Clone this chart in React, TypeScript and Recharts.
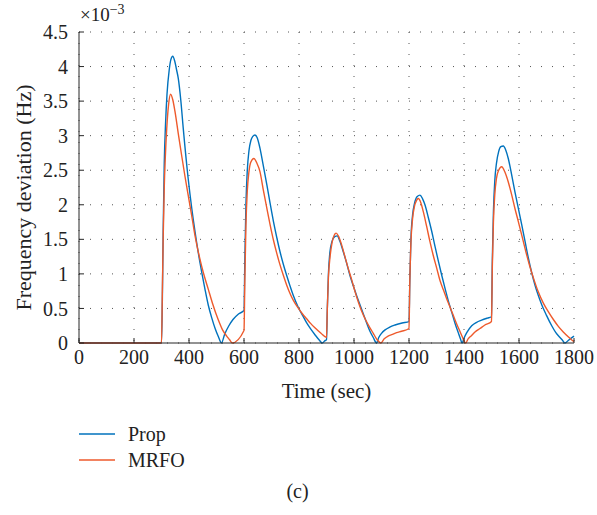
import React from 'react'
import { LineChart, Line, XAxis, YAxis, CartesianGrid, Legend } from 'recharts'

const FONT = 'Liberation Serif'
const INK = '#262626'
const BLUE = '#0072BD'
const ORANGE = '#EE5A2C'

const timeTicks = [0, 200, 400, 600, 800, 1000, 1200, 1400, 1600, 1800]
const devTicks = [0, 0.5, 1, 1.5, 2, 2.5, 3, 3.5, 4, 4.5]

// frequency deviation in units of 1e-3 Hz
const propTime = [
  0, 300, 303, 306, 310, 315, 320, 328, 334, 341, 348, 355, 361, 370, 379, 397, 410, 422, 434, 446, 458, 470, 483, 495, 507, 518,
  530, 545, 560, 580, 600,
  603, 607, 612, 618, 625, 632, 640, 648, 658, 670, 683, 695, 707, 719, 731, 743, 755, 767, 779, 798, 813, 828, 843, 858, 872, 885, 893, 900,
  903, 907, 912, 920, 930, 939, 948, 961, 973, 985, 998, 1010, 1022, 1034, 1046, 1058, 1070, 1082, 1090, 1100, 1113, 1130, 1149, 1175, 1200,
  1203, 1207, 1213, 1220, 1230, 1240, 1249, 1258, 1270, 1283, 1295, 1307, 1319, 1331, 1343, 1355, 1367, 1379, 1387, 1393, 1400, 1410, 1428, 1446, 1464, 1485, 1500,
  1503, 1507, 1512, 1518, 1526, 1534, 1543, 1552, 1561, 1573, 1585, 1598, 1610, 1622, 1634, 1646, 1658, 1670, 1683, 1700, 1719, 1734, 1749, 1758, 1767, 1780, 1790, 1800,
]
const propDev = [
  0, 0, 0.6, 1.6, 2.6, 3.2, 3.6, 3.95, 4.1, 4.15, 4.08, 3.95, 3.83, 3.52, 3.11, 2.38, 1.95, 1.61, 1.3, 1.03, 0.78, 0.55, 0.36, 0.21, 0.09, 0,
  0.13, 0.25, 0.34, 0.42, 0.47,
  1.2, 2.0, 2.5, 2.78, 2.93, 2.99, 3.01, 2.97, 2.82, 2.57, 2.29, 2.02, 1.76, 1.53, 1.32, 1.14, 0.98, 0.83, 0.69, 0.51, 0.4, 0.29, 0.2, 0.12, 0.05, 0, 0.03, 0.05,
  0.5, 1.0, 1.3, 1.47, 1.54, 1.55, 1.48, 1.32, 1.16, 0.98, 0.82, 0.68, 0.55, 0.42, 0.29, 0.17, 0.08, 0, 0.08, 0.14, 0.19, 0.23, 0.26, 0.29, 0.31,
  0.9, 1.5, 1.85, 2.02, 2.12, 2.14, 2.09, 2.0, 1.82, 1.61, 1.39, 1.18, 0.98, 0.79, 0.61, 0.45, 0.29, 0.15, 0.06, 0, 0.07, 0.15, 0.25, 0.3, 0.33, 0.36, 0.38,
  1.2, 1.9, 2.35, 2.6, 2.77, 2.84, 2.85, 2.79, 2.67, 2.44, 2.19, 1.94, 1.71, 1.47, 1.23, 1.02, 0.84, 0.69, 0.55, 0.4, 0.25, 0.15, 0.08, 0.04, 0, 0.04, 0.07, 0.1,
]

const mrfoTime = [
  0, 300, 303, 306, 310, 314, 319, 325, 333, 341, 349, 361, 373, 385, 397, 410, 422, 431, 440, 452, 470, 485, 507, 522, 537, 547, 557, 600,
  603, 607, 612, 618, 625, 636, 647, 658, 670, 683, 695, 707, 719, 731, 743, 755, 767, 779, 798, 813, 828, 843, 858, 880, 900,
  903, 907, 913, 920, 928, 935, 943, 955, 967, 979, 992, 1004, 1016, 1028, 1043, 1058, 1070, 1082, 1098, 1110, 1124, 1137, 1155, 1173, 1200,
  1203, 1207, 1213, 1220, 1227, 1234, 1243, 1252, 1264, 1276, 1288, 1301, 1313, 1325, 1337, 1349, 1361, 1373, 1385, 1396, 1406, 1415, 1428, 1440, 1458, 1476, 1500,
  1503, 1507, 1512, 1518, 1526, 1537, 1549, 1561, 1573, 1585, 1598, 1610, 1625, 1640, 1655, 1670, 1688, 1707, 1725, 1743, 1761, 1779, 1790, 1800,
]
const mrfoDev = [
  0, 0, 0.7, 1.5, 2.25, 2.7, 3.1, 3.42, 3.6, 3.52, 3.35, 3.03, 2.72, 2.42, 2.14, 1.84, 1.55, 1.37, 1.21, 1.02, 0.78, 0.58, 0.33, 0.19, 0.1, 0.05, 0, 0.18,
  0.9, 1.7, 2.2, 2.48, 2.62, 2.67, 2.6, 2.48, 2.22, 1.95, 1.71, 1.49, 1.3, 1.13, 0.98, 0.84, 0.72, 0.62, 0.5, 0.42, 0.35, 0.28, 0.22, 0.14, 0.08,
  0.5, 0.95, 1.25, 1.45, 1.56, 1.59, 1.55, 1.42, 1.25, 1.08, 0.91, 0.74, 0.59, 0.46, 0.33, 0.22, 0.14, 0.06, 0, 0.06, 0.1, 0.12, 0.15, 0.17, 0.21,
  0.9, 1.45, 1.8, 1.98, 2.06, 2.09, 2.03, 1.9, 1.69, 1.47, 1.27, 1.08, 0.9, 0.77, 0.64, 0.52, 0.4, 0.28, 0.17, 0.07, 0, 0.06, 0.11, 0.16, 0.21, 0.26, 0.31,
  1.1, 1.75, 2.15, 2.38, 2.5, 2.55, 2.47, 2.33, 2.15, 1.95, 1.75, 1.56, 1.32, 1.1, 0.91, 0.74, 0.58, 0.45, 0.34, 0.24, 0.16, 0.09, 0.05, 0.02,
]

const series = [
  { name: 'Prop', color: BLUE, time: propTime, dev: propDev },
  { name: 'MRFO', color: ORANGE, time: mrfoTime, dev: mrfoDev },
]

const rows = (t: number[], v: number[]) => t.map((x, i) => ({ t: x, v: v[i] }))

function LegendBox() {
  return (
    <div style={{ fontFamily: FONT, fontSize: 20, color: '#222' }}>
      {series.map((s) => (
        <div key={s.name} style={{ display: 'flex', alignItems: 'center', height: 26 }}>
          <svg width={36} height={4} style={{ marginRight: 13 }}>
            <line x1={0} x2={36} y1={2} y2={2} stroke={s.color} strokeWidth={1.5} />
          </svg>
          <span>{s.name}</span>
        </div>
      ))}
    </div>
  )
}

export default function App() {
  const tickStyle = { fontFamily: FONT, fontSize: 20, fill: '#222' }
  return (
    <div style={{ position: 'absolute', left: 0, top: 0, width: 597, height: 515, background: '#fff' }}>
      <LineChart width={597} height={515} margin={{ top: 32, right: 23, bottom: 92, left: 0 }}>
        <CartesianGrid stroke="#555" strokeDasharray="1 10" />
        <XAxis
          dataKey="t"
          type="number"
          domain={[0, 1800]}
          ticks={timeTicks}
          interval={0}
          height={80}
          stroke={INK}
          tickSize={-5}
          tickMargin={12}
          tick={tickStyle}
          label={{
            content: (p: any) => {
              const vb = p.viewBox
              return (
                <text x={vb.x + vb.width / 2} y={vb.y + 55} textAnchor="middle" fontFamily={FONT} fontSize={21} fill="#222">
                  Time (sec)
                </text>
              )
            },
          }}
        />
        <XAxis xAxisId="top" orientation="top" type="number" domain={[0, 1800]} ticks={timeTicks} height={0} stroke={INK} tickSize={-5} tick={false} />
        <YAxis
          type="number"
          domain={[0, 4.5]}
          ticks={devTicks}
          interval={0}
          width={79}
          stroke={INK}
          tickSize={-5}
          tickMargin={16}
          tick={tickStyle}
          label={{
            content: (p: any) => {
              const vb = p.viewBox
              const cy = vb.y + vb.height / 2 + 10
              return (
                <text transform={`translate(23, ${cy}) rotate(-90)`} textAnchor="middle" dominantBaseline="central" fontFamily={FONT} fontSize={22} fill="#222">
                  Frequency deviation (Hz)
                </text>
              )
            },
          }}
        />
        <YAxis yAxisId="right" orientation="right" type="number" domain={[0, 4.5]} ticks={devTicks} width={0} stroke={INK} tickSize={-5} tick={false} />
        {series.map((s) => (
          <Line
            key={s.name}
            name={s.name}
            data={rows(s.time, s.dev)}
            dataKey="v"
            type="monotone"
            stroke={s.color}
            strokeWidth={1.4}
            dot={false}
            isAnimationActive={false}
          />
        ))}
        <Legend layout="vertical" align="center" verticalAlign="middle" wrapperStyle={{ left: 79, top: 421, width: 200 }} content={() => <LegendBox />} />
      </LineChart>
      <div style={{ position: 'absolute', left: 80, top: 2, fontFamily: FONT, fontSize: 19, color: '#222', whiteSpace: 'nowrap' }}>
        ×10<sup style={{ fontSize: 14 }}>−3</sup>
      </div>
      <div style={{ position: 'absolute', left: 0, width: 597, top: 480, textAlign: 'center', fontFamily: FONT, fontSize: 20, color: '#222' }}>
        <span style={{ marginLeft: -2 }}>(c)</span>
      </div>
    </div>
  )
}
